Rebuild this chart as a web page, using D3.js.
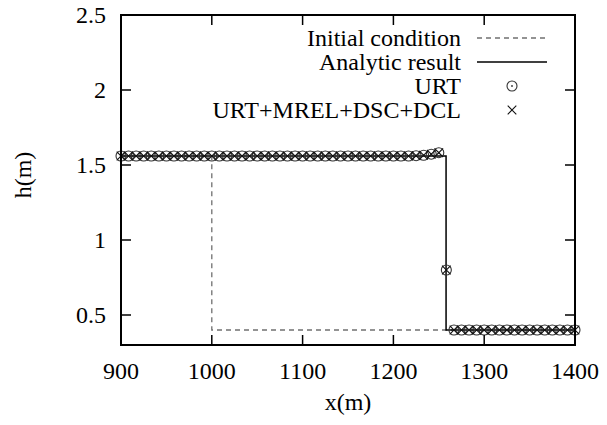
<!DOCTYPE html>
<html>
<head>
<meta charset="utf-8">
<script src="https://cdn.jsdelivr.net/npm/d3@7"></script>
<style>
  body { margin: 0; background: #fff; }
</style>
</head>
<body>
<script>
// grid points (x in m)
const xs = [900, 908.3, 916.7, 925, 933.3, 941.7, 950, 958.3, 966.7, 975,
  983.3, 991.7, 1000, 1008.3, 1016.7, 1025, 1033.3, 1041.7, 1050, 1058.3,
  1066.7, 1075, 1083.3, 1091.7, 1100, 1108.3, 1116.7, 1125, 1133.3, 1141.7,
  1150, 1158.3, 1166.7, 1175, 1183.3, 1191.7, 1200, 1208.3, 1216.7, 1225,
  1233.3, 1241.7, 1250, 1258.3, 1266.7, 1275, 1283.3, 1291.7, 1300, 1308.3,
  1316.7, 1325, 1333.3, 1341.7, 1350, 1358.3, 1366.7, 1375, 1383.3, 1391.7, 1400];

const urtH = [1.56, 1.56, 1.56, 1.56, 1.56, 1.56, 1.56, 1.56, 1.56, 1.56,
  1.56, 1.56, 1.56, 1.56, 1.56, 1.56, 1.56, 1.56, 1.56, 1.56,
  1.56, 1.56, 1.56, 1.56, 1.56, 1.56, 1.56, 1.56, 1.56, 1.56,
  1.56, 1.56, 1.56, 1.56, 1.56, 1.56, 1.56, 1.56, 1.56, 1.562,
  1.565, 1.572, 1.582, 0.80, 0.40, 0.40, 0.40, 0.40, 0.40, 0.40,
  0.40, 0.40, 0.40, 0.40, 0.40, 0.40, 0.40, 0.40, 0.40, 0.40, 0.40];

const mrelH = [1.56, 1.56, 1.56, 1.56, 1.56, 1.56, 1.56, 1.56, 1.56, 1.56,
  1.56, 1.56, 1.56, 1.56, 1.56, 1.56, 1.56, 1.56, 1.56, 1.56,
  1.56, 1.56, 1.56, 1.56, 1.56, 1.56, 1.56, 1.56, 1.56, 1.56,
  1.56, 1.56, 1.56, 1.56, 1.56, 1.56, 1.56, 1.56, 1.56, 1.562,
  1.565, 1.572, 1.582, 0.80, 0.40, 0.40, 0.40, 0.40, 0.40, 0.40,
  0.40, 0.40, 0.40, 0.40, 0.40, 0.40, 0.40, 0.40, 0.40, 0.40, 0.40];

const initX = [900, 1000, 1000, 1400];
const initH = [1.56, 1.56, 0.4, 0.4];
const analyticX = [900, 1258, 1258, 1400];
const analyticH = [1.56, 1.56, 0.4, 0.4];

const xTicks = [900, 1000, 1100, 1200, 1300, 1400];
const yTicks = [0.5, 1, 1.5, 2, 2.5];
const legendLabels = ["Initial condition", "Analytic result", "URT", "URT+MREL+DSC+DCL"];

const W = 607, H = 425;
const m = { left: 121, right: 32, top: 15, bottom: 80 };
const FS = 24;
const FONT = "'Liberation Serif', 'Times New Roman', 'DejaVu Serif', serif";

const svg = d3.select("body").append("svg").attr("width", W).attr("height", H)
  .attr("font-family", FONT);

const x = d3.scaleLinear().domain([900, 1400]).range([m.left, W - m.right]);
const y = d3.scaleLinear().domain([0.3, 2.5]).range([H - m.bottom, m.top]);

const line = d3.line().x(d => x(d[0])).y(d => y(d[1]));

// initial condition (dashed)
svg.append("path")
  .datum(d3.zip(initX, initH))
  .attr("d", line)
  .attr("fill", "none").attr("stroke", "#707070").attr("stroke-width", 1.3)
  .attr("stroke-dasharray", "5,4");

// analytic result
svg.append("path")
  .datum(d3.zip(analyticX, analyticH))
  .attr("d", line)
  .attr("fill", "none").attr("stroke", "#000").attr("stroke-width", 1.5);

function circleMark(g, cx, cy) {
  g.append("circle").attr("cx", cx).attr("cy", cy).attr("r", 5)
    .attr("fill", "none").attr("stroke", "#333").attr("stroke-width", 1.1);
  g.append("circle").attr("cx", cx).attr("cy", cy).attr("r", 0.9).attr("fill", "#333");
}
function crossMark(g, cx, cy) {
  const s = 4.3;
  g.append("path")
    .attr("d", `M${cx - s},${cy - s}L${cx + s},${cy + s}M${cx - s},${cy + s}L${cx + s},${cy - s}`)
    .attr("stroke", "#111").attr("stroke-width", 1.1).attr("fill", "none");
}

const gU = svg.append("g");
xs.forEach((v, i) => circleMark(gU, x(v), y(urtH[i])));
const gM = svg.append("g");
xs.forEach((v, i) => crossMark(gM, x(v), y(mrelH[i])));

// frame
const x0 = m.left, x1 = W - m.right, y0 = m.top, y1 = H - m.bottom;
svg.append("rect").attr("x", x0).attr("y", y0).attr("width", x1 - x0).attr("height", y1 - y0)
  .attr("fill", "none").attr("stroke", "#000").attr("stroke-width", 2);

const tl = 10;
const ticks = svg.append("g").attr("stroke", "#000").attr("stroke-width", 1.5);
xTicks.forEach(t => {
  ticks.append("line").attr("x1", x(t)).attr("x2", x(t)).attr("y1", y1).attr("y2", y1 - tl);
  ticks.append("line").attr("x1", x(t)).attr("x2", x(t)).attr("y1", y0).attr("y2", y0 + tl);
});
yTicks.forEach(t => {
  ticks.append("line").attr("x1", x0).attr("x2", x0 + tl).attr("y1", y(t)).attr("y2", y(t));
  ticks.append("line").attr("x1", x1).attr("x2", x1 - tl).attr("y1", y(t)).attr("y2", y(t));
});

svg.append("g").selectAll("text").data(xTicks).join("text")
  .attr("x", d => x(d)).attr("y", 379)
  .attr("text-anchor", "middle").attr("font-size", FS)
  .text(d => d);

svg.append("g").selectAll("text").data(yTicks).join("text")
  .attr("x", 106).attr("y", d => y(d)).attr("dy", "0.35em")
  .attr("text-anchor", "end").attr("font-size", FS)
  .text(d => d);

svg.append("text").attr("x", (x0 + x1) / 2).attr("y", 410)
  .attr("text-anchor", "middle").attr("font-size", FS).text("x(m)");

svg.append("text").attr("transform", "translate(31,175) rotate(-90)")
  .attr("text-anchor", "middle").attr("font-size", FS).text("h(m)");

// legend
const lg = svg.append("g");
const rowY = [38, 62, 86, 110];
legendLabels.forEach((lab, i) => {
  lg.append("text").attr("x", 461).attr("y", rowY[i]).attr("dy", "0.35em")
    .attr("text-anchor", "end").attr("font-size", FS).text(lab);
});
lg.append("line").attr("x1", 477).attr("x2", 547).attr("y1", rowY[0]).attr("y2", rowY[0])
  .attr("stroke", "#707070").attr("stroke-width", 1.3).attr("stroke-dasharray", "5,4");
lg.append("line").attr("x1", 477).attr("x2", 547).attr("y1", rowY[1]).attr("y2", rowY[1])
  .attr("stroke", "#000").attr("stroke-width", 1.5);
circleMark(lg, 512, rowY[2]);
crossMark(lg, 512, rowY[3]);
</script>
</body>
</html>
